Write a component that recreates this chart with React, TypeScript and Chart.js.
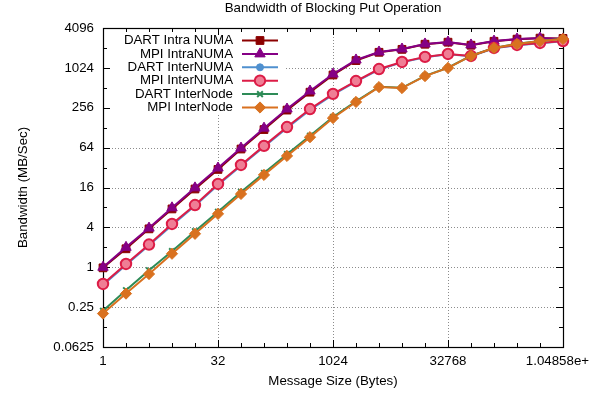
import React, { useEffect, useRef } from 'react';
import { Chart, registerables } from 'chart.js';
import { drawPoint } from 'chart.js/helpers';

Chart.register(...registerables);

const FONT = '"Liberation Sans", Arial, Helvetica, sans-serif';
const FONT_SIZE = 13.3;
const TITLE = 'Bandwidth of Blocking Put Operation';
const X_TITLE = 'Message Size (Bytes)';
const Y_TITLE = 'Bandwidth (MB/Sec)';

const messageSizes = [
  1, 2, 4, 8, 16, 32, 64, 128, 256, 512, 1024, 2048, 4096, 8192, 16384, 32768,
  65536, 131072, 262144, 524288, 1048576,
];

const xTickValues = [1, 32, 1024, 32768, 1048576];
// the last label is cut by the picture's right edge in the reference
const xTickLabels = ['1', '32', '1024', '32768', '1.04858e+   '];
const yTickValues = [0.0625, 0.25, 1, 4, 16, 64, 256, 1024, 4096];
const yTickLabels = ['0.0625', '0.25', '1', '4', '16', '64', '256', '1024', '4096'];
const yMinorValues = [0.125, 0.5, 2, 8, 32, 128, 512, 2048];

const dartIntraNuma = [0.98, 1.9, 3.8, 7.6, 15.2, 30, 61, 120, 236, 440, 800, 1320, 1760, 1950, 2330, 2500, 2250, 2580, 2780, 2880, 2850];
const mpiIntraNuma = [1.0, 2.0, 3.9, 7.9, 15.8, 31.5, 63, 126, 245, 458, 826, 1350, 1780, 1974, 2353, 2518, 2273, 2600, 2800, 2896, 2800];
const dartInterNuma = [0.54, 1.08, 2.15, 4.3, 8.5, 17.5, 34, 66, 127, 238, 405, 635, 965, 1240, 1480, 1640, 1540, 2030, 2250, 2420, 2590];
const mpiInterNuma = [0.56, 1.12, 2.2, 4.5, 8.7, 18.1, 35, 68, 131, 245, 415, 648, 983, 1257, 1500, 1660, 1550, 2045, 2270, 2435, 2600];
const dartInterNode = [0.22, 0.45, 0.9, 1.75, 3.5, 6.9, 13.7, 26.5, 51, 97, 186, 320, 530, 512, 775, 1030, 1560, 2050, 2360, 2610, 2810];
const mpiInterNode = [0.2, 0.4, 0.79, 1.6, 3.2, 6.4, 12.8, 24.8, 48, 92, 179, 313, 525, 508, 770, 1022, 1553, 2045, 2350, 2600, 2800];

const seriesNames = ['DART Intra NUMA', 'MPI IntraNUMA', 'DART InterNUMA', 'MPI InterNUMA', 'DART InterNode', 'MPI InterNode'];
const seriesValues = [dartIntraNuma, mpiIntraNuma, dartInterNuma, mpiInterNuma, dartInterNode, mpiInterNode];
const seriesColors = ['#8b0000', '#850085', '#4f90cf', '#dc1c46', '#2e8b57', '#d9711f'];
const seriesFills = ['#8b0000', '#850085', '#4f90cf', '#ef7e95', '#2e8b57', '#d9711f'];
const seriesPointStyles = ['rect', 'triangle', 'circle', 'circle', 'crossRot', 'rectRot'];
const seriesPointRadius = [5.5, 6, 3.5, 5.2, 4, 5.6];
const seriesPointBorder = [1, 1, 1, 2, 2, 1];

const framePlugin = {
  id: 'gnuFrame',
  beforeDatasetsDraw(chart: any) {
    const { ctx, chartArea: a, scales } = chart;
    const x = scales.x;
    const y = scales.y;
    ctx.save();
    ctx.strokeStyle = '#8c8c8c';
    ctx.lineWidth = 1;
    ctx.setLineDash([1, 2]);
    xTickValues.forEach((v) => {
      const px = Math.round(x.getPixelForValue(v)) + 0.5;
      ctx.beginPath();
      ctx.moveTo(px, a.top);
      ctx.lineTo(px, a.bottom);
      ctx.stroke();
    });
    yTickValues.forEach((v) => {
      const py = Math.round(y.getPixelForValue(v)) + 0.5;
      ctx.beginPath();
      ctx.moveTo(a.left, py);
      ctx.lineTo(a.right, py);
      ctx.stroke();
    });
    ctx.setLineDash([]);
    ctx.fillStyle = '#ffffff';
    ctx.fillRect(a.left + 1, a.top + 1, 182, 86);
    ctx.strokeStyle = '#000000';
    ctx.lineWidth = 1;
    messageSizes.forEach((v) => {
      const px = Math.round(x.getPixelForValue(v)) + 0.5;
      const len = xTickValues.includes(v) ? 7 : 4;
      ctx.beginPath();
      ctx.moveTo(px, a.bottom);
      ctx.lineTo(px, a.bottom - len);
      ctx.moveTo(px, a.top);
      ctx.lineTo(px, a.top + len);
      ctx.stroke();
    });
    [...yTickValues, ...yMinorValues].forEach((v) => {
      const py = Math.round(y.getPixelForValue(v)) + 0.5;
      const len = yTickValues.includes(v) ? 7 : 4;
      ctx.beginPath();
      ctx.moveTo(a.left, py);
      ctx.lineTo(a.left + len, py);
      ctx.moveTo(a.right, py);
      ctx.lineTo(a.right - len, py);
      ctx.stroke();
    });
    ctx.lineWidth = 1.2;
    ctx.strokeRect(Math.round(a.left) + 0.5, Math.round(a.top) + 0.5, Math.round(a.width), Math.round(a.height));
    ctx.restore();
  },
  afterDatasetsDraw(chart: any) {
    const { ctx, chartArea: a } = chart;
    ctx.save();
    ctx.fillStyle = '#000000';
    ctx.font = `${FONT_SIZE}px ${FONT}`;
    ctx.textAlign = 'center';
    ctx.textBaseline = 'middle';
    ctx.fillText(TITLE, (a.left + a.right) / 2, 8.5);
    ctx.textAlign = 'right';
    seriesNames.forEach((name, i) => {
      const ry = a.top + 12.5 + i * 13.4;
      ctx.fillStyle = '#000000';
      ctx.fillText(name, a.left + 130, ry);
      ctx.strokeStyle = seriesColors[i];
      ctx.lineWidth = 2;
      ctx.beginPath();
      ctx.moveTo(a.left + 139, ry);
      ctx.lineTo(a.left + 175, ry);
      ctx.stroke();
      ctx.fillStyle = seriesFills[i];
      ctx.lineWidth = seriesPointBorder[i];
      drawPoint(ctx, {
        pointStyle: seriesPointStyles[i],
        radius: seriesPointRadius[i],
        rotation: 0,
        borderWidth: seriesPointBorder[i],
      } as any, a.left + 157, ry);
    });
    ctx.restore();
  },
};

export default function App() {
  const ref = useRef<HTMLCanvasElement>(null);
  useEffect(() => {
    const canvas = ref.current as HTMLCanvasElement;
    const datasets = seriesNames.map((name, i) => ({
      label: name,
      data: seriesValues[i].map((v, j) => ({ x: messageSizes[j], y: v })),
      borderColor: seriesColors[i],
      backgroundColor: seriesFills[i],
      borderWidth: 2,
      pointStyle: seriesPointStyles[i],
      pointRadius: seriesPointRadius[i],
      pointBorderWidth: seriesPointBorder[i],
      pointBackgroundColor: seriesFills[i],
      pointBorderColor: seriesColors[i],
      tension: 0,
      fill: false,
      clip: 10,
      order: seriesNames.length - i,
    }));
    const chart = new Chart(canvas, {
      type: 'line',
      data: { datasets } as any,
      options: {
        responsive: false,
        animation: false,
        devicePixelRatio: 1,
        layout: { padding: { top: 28, right: 33, left: 0, bottom: 0 } },
        plugins: {
          legend: { display: false },
          tooltip: { enabled: false },
          title: { display: false },
        },
        scales: {
          x: {
            type: 'logarithmic',
            min: 1,
            max: 1048576,
            afterBuildTicks: (s: any) => {
              s.ticks = xTickValues.map((v) => ({ value: v }));
            },
            afterFit: (s: any) => {
              s.height = 51;
              s.paddingLeft = 0;
              s.paddingRight = 0;
            },
            grid: { display: false, drawTicks: false },
            border: { display: false },
            ticks: {
              autoSkip: false,
              maxRotation: 0,
              minRotation: 0,
              padding: 6,
              color: '#000000',
              font: { family: FONT, size: FONT_SIZE },
              callback: (_v: any, i: number) => xTickLabels[i],
            },
            title: {
              display: true,
              text: X_TITLE,
              color: '#000000',
              font: { family: FONT, size: FONT_SIZE },
              padding: { top: 0, bottom: 9 },
            },
          },
          y: {
            type: 'logarithmic',
            min: 0.0625,
            max: 4096,
            afterBuildTicks: (s: any) => {
              s.ticks = yTickValues.map((v) => ({ value: v }));
            },
            afterFit: (s: any) => {
              s.width = 103;
              s.paddingTop = 0;
              s.paddingBottom = 0;
            },
            grid: { display: false, drawTicks: false },
            border: { display: false },
            ticks: {
              autoSkip: false,
              padding: 9,
              color: '#000000',
              font: { family: FONT, size: FONT_SIZE },
              callback: (_v: any, i: number) => yTickLabels[i],
            },
            title: {
              display: true,
              text: Y_TITLE,
              color: '#000000',
              font: { family: FONT, size: FONT_SIZE },
              padding: { top: 15, bottom: 0 },
            },
          },
        },
      } as any,
      plugins: [framePlugin],
    });
    return () => chart.destroy();
  }, []);
  return (
    <div style={{ position: 'absolute', left: 0, top: 0, width: 596, height: 398, background: '#ffffff' }}>
      <canvas ref={ref} width={596} height={398} style={{ display: 'block', width: 596, height: 398 }} />
    </div>
  );
}
